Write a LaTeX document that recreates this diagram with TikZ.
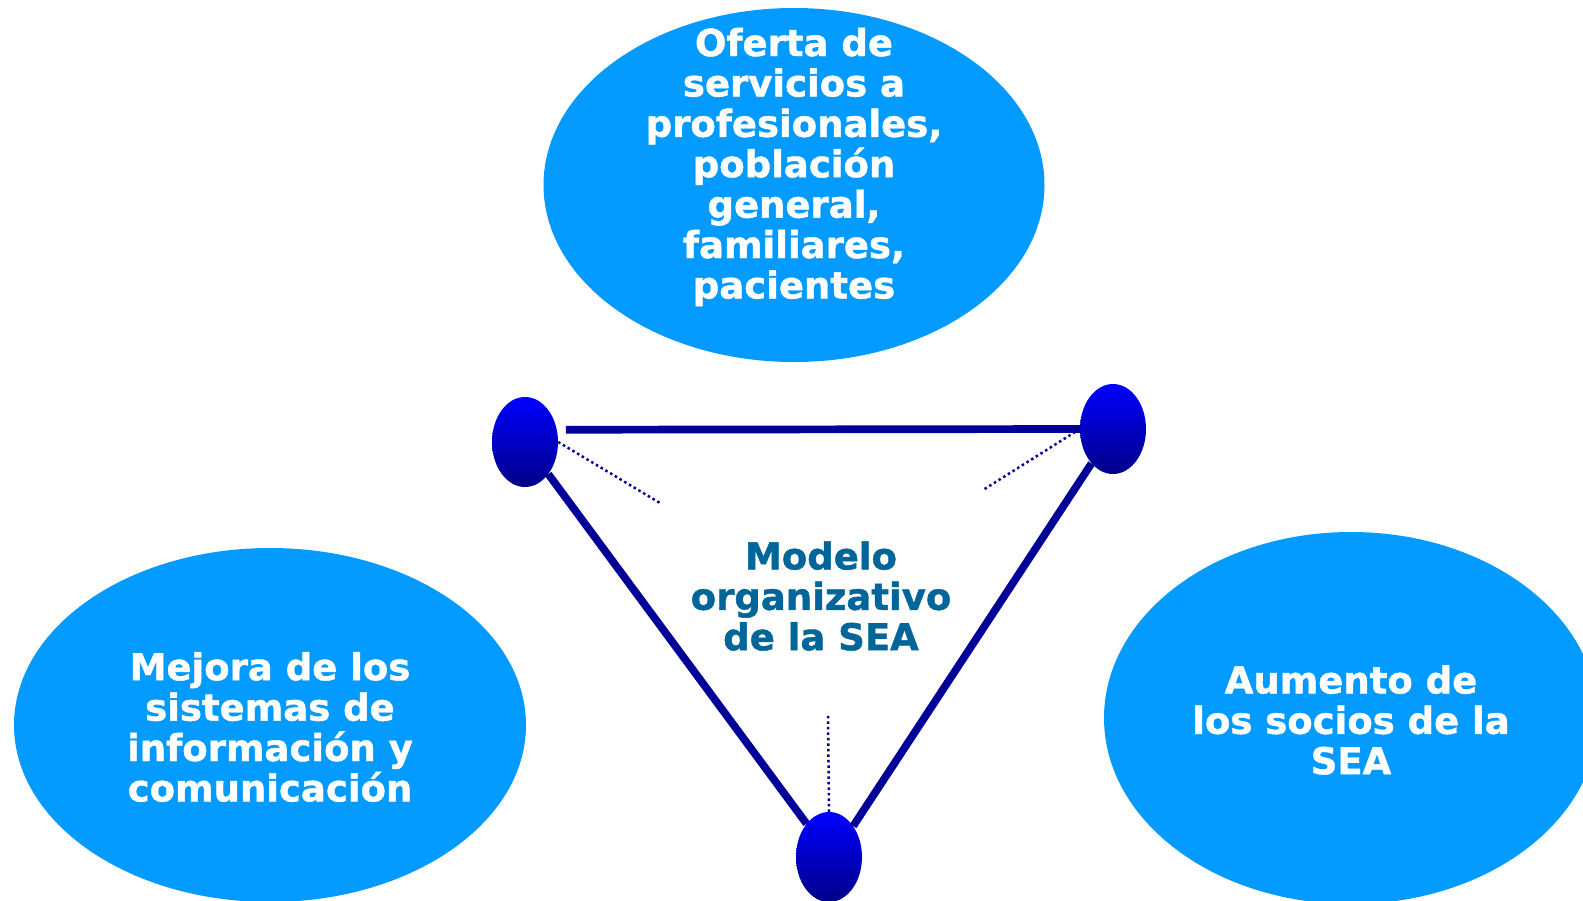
\documentclass[tikz,border=0pt]{standalone}
\usepackage{fontspec}
\setmainfont{DejaVu Sans}[BoldFeatures={FakeBold=1.2}]
\usetikzlibrary{shapes.geometric}
\definecolor{celeste}{RGB}{3,155,255}
\definecolor{marino}{RGB}{0,0,153}
\definecolor{titulo}{RGB}{0,102,153}
\definecolor{hondo}{RGB}{0,0,135}

\begin{document}
\begin{tikzpicture}[x=1pt,y=-1pt,
        burbuja/.style={ellipse,fill=celeste,inner sep=0pt},
        vertice/.style={ellipse,inner sep=0pt,minimum width=66pt,minimum height=90pt,top color=blue,bottom color=hondo},
        rotulo/.style={align=center,font=\fontsize{37}{40.4}\selectfont\bfseries}]
        \clip (0,0) rectangle (1583,900);

        \node[burbuja,minimum width=501pt,minimum height=354pt] (oferta) at (794,185) {};
        \node[burbuja,minimum width=512pt,minimum height=354pt] (mejora) at (270,725) {};
        \node[burbuja,minimum width=494pt,minimum height=372pt] (aumento) at (1351,718) {};

        \node[rotulo,white] (toferta) at (794,167) {Oferta de\\servicios a\\profesionales,\\población\\general,\\familiares,\\pacientes};
        \node[rotulo,white] (tmejora) at (270,727) {Mejora de los\\sistemas de\\información y\\comunicación};
        \node[rotulo,white] (taumento) at (1351,720) {Aumento de\\los socios de la\\SEA};
        \node[rotulo,titulo] (modelo) at (821,596) {Modelo\\organizativo\\de la SEA};

        \node[vertice] (izq) at (525,442) {};
        \node[vertice] (der) at (1113,429) {};
        \node[vertice] (abajo) at (829,857) {};

        \coordinate (p1) at (660,503);
        \coordinate (p2) at (983,490);
        \coordinate (p3) at (828,713);

        \draw[line width=7.7pt,marino,shorten <=9pt] (izq.21)--(der.west);
        \draw[line width=7.7pt,marino] (izq.-54)--(abajo.124);
        \draw[line width=7.7pt,marino] (der.-122)--(abajo.52);

        \draw[line width=2.5pt,marino,dash pattern=on 2.5pt off 3pt] (izq.east)--(p1);
        \draw[line width=2.5pt,marino,dash pattern=on 2.5pt off 3pt] (der.west)--(p2);
        \draw[line width=2.5pt,marino,dash pattern=on 2.5pt off 3pt] (abajo.north)--(p3);

\end{tikzpicture}
\end{document}
